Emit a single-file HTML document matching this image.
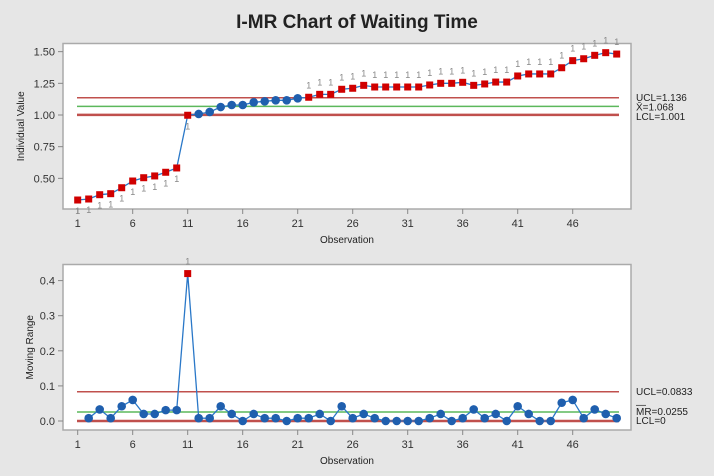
<!DOCTYPE html>
<html><head><meta charset="utf-8"><style>
body{margin:0;background:#e6e6e6;}
svg{display:block;font-family:"Liberation Sans",sans-serif;}
</style></head><body>
<svg id="c" width="714" height="476" viewBox="0 0 714 476">
<rect x="0" y="0" width="714" height="476" fill="#e6e6e6"/>
<text x="357" y="28" text-anchor="middle" font-size="19" font-weight="bold" fill="#222">I-MR Chart of Waiting Time</text>
<g id="top"></g><g id="bot"></g>
</svg>
<script>
const obs = Array.from({length:50},(_,i)=>i+1);
const indiv = [0.329,0.337,0.371,0.379,0.426,0.479,0.505,0.519,0.548,0.582,
0.998,1.008,1.024,1.063,1.079,1.079,1.100,1.108,1.116,1.116,
1.132,1.140,1.163,1.163,1.203,1.211,1.234,1.221,1.221,1.221,
1.221,1.221,1.237,1.250,1.250,1.258,1.234,1.245,1.260,1.260,
1.308,1.324,1.324,1.324,1.373,1.429,1.444,1.471,1.492,1.481];
const mr = [null,0.008,0.033,0.008,0.042,0.060,0.020,0.020,0.031,0.031,
0.42,0.008,0.008,0.042,0.020,0.0,0.020,0.008,0.008,0.0,
0.008,0.008,0.020,0.0,0.042,0.008,0.020,0.008,0.0,0.0,
0.0,0.0,0.008,0.020,0.0,0.008,0.033,0.008,0.020,0.0,
0.042,0.020,0.0,0.0,0.052,0.060,0.008,0.033,0.020,0.008];
const iLimits = {ucl:1.136, mean:1.068, lcl:1.001};
const mLimits = {ucl:0.0833, mean:0.0255, lcl:0};
const xTicks = [1,6,11,16,21,26,31,36,41,46];
const iTicks = [0.50,0.75,1.00,1.25,1.50];
const mTicks = [0.0,0.1,0.2,0.3,0.4];

const NS="http://www.w3.org/2000/svg";
function mk(p,tag,at,txt){const e=document.createElementNS(NS,tag);for(const k in at)e.setAttribute(k,at[k]);if(txt!==undefined)e.textContent=txt;p.appendChild(e);return e;}
const X = o => 77.7 + (o-1)*11.0;

function panel(g, frame, Y, vals, lim, ticks, fmt, ytitle, labels, startIdx){
  const f=mk(g,'rect',{x:63,y:frame.t,width:568,height:frame.b-frame.t,fill:'#fff',stroke:'#aaa','stroke-width':1.5});
  
  
  ticks.forEach(t=>{
    const y=Y(t);
    mk(g,'line',{x1:58,x2:63,y1:y,y2:y,stroke:'#888'});
    const tx=mk(g,'text',{x:55,y:y+4,'text-anchor':'end','font-size':11,fill:'#333'},fmt(t));
    
    
  });
  xTicks.forEach(o=>{
    mk(g,'line',{x1:X(o),x2:X(o),y1:frame.b,y2:frame.b+5,stroke:'#888'});
    const tx=mk(g,'text',{x:X(o),y:frame.b+18,'text-anchor':'middle','font-size':11,fill:'#333'},o);
    
    
  });
  const xt=mk(g,'text',{x:347,y:frame.b+34,'text-anchor':'middle','font-size':10,fill:'#222'},'Observation');
  
  
  const cy=(frame.t+frame.b)/2;
  const yt=mk(g,'text',{x:0,y:0,'text-anchor':'middle','font-size':10,fill:'#222',transform:`translate(${frame.yx},${cy}) rotate(-90)`},ytitle);
  
  
  [['ucl','#c0504d',1.5],['mean','#5cb85c',1.5],['lcl','#c0504d',2.5]].forEach(([k,c,w])=>{
    const l=mk(g,'line',{x1:77,x2:619,y1:Y(lim[k]),y2:Y(lim[k]),stroke:c,'stroke-width':w});
    
    
  });
  let pts=[];
  vals.forEach((v,i)=>{if(v!==null)pts.push(X(obs[i])+','+Y(v));});
  const pl=mk(g,'polyline',{points:pts.join(' '),fill:'none',stroke:'#2a78c8','stroke-width':1.3});
  
  
  vals.forEach((v,i)=>{
    if(v===null)return;
    const x=X(obs[i]),y=Y(v);
    const out=v>lim.ucl||v<lim.lcl;
    let m;
    if(out){
      m=mk(g,'rect',{x:x-3.5,y:y-3.5,width:7,height:7,fill:'#d00000'});
      const ly = v>lim.ucl ? y-9 : y+14;
      const lt=mk(g,'text',{x:x,y:ly,'text-anchor':'middle','font-size':9,fill:'#888'},'1');
      
      
    } else {
      m=mk(g,'circle',{cx:x,cy:y,r:4.3,fill:'#1f5fae'});
    }
    
    
  });
  labels.forEach(([t,y,name])=>{
    const e=mk(g,'text',{x:636,y:y,'font-size':10,fill:'#222'},t);
    
    
  });
}
const YI = v => 115 - (v-1)*126.7;
const YM = v => 421 - v*351;
panel(document.getElementById('top'),{t:43.5,b:209,yx:24},YI,indiv,iLimits,iTicks,t=>t.toFixed(2),'Individual Value',
 [['UCL=1.136',YI(1.136)+3,'ucl-label'],['X\u0304=1.068',YI(1.068)+4,'mean-label'],['LCL=1.001',YI(1.001)+5,'lcl-label']]);
panel(document.getElementById('bot'),{t:264.5,b:430,yx:33},YM,mr,mLimits,mTicks,t=>t.toFixed(1),'Moving Range',
 [['UCL=0.0833',YM(0.0833)+3,'ucl-label'],['\u2014',YM(0.0255)-4,'mean-bar'],['MR=0.0255',YM(0.0255)+3,'mean-label'],['LCL=0',YM(0)+3,'lcl-label']]);
</script>
</body></html>
